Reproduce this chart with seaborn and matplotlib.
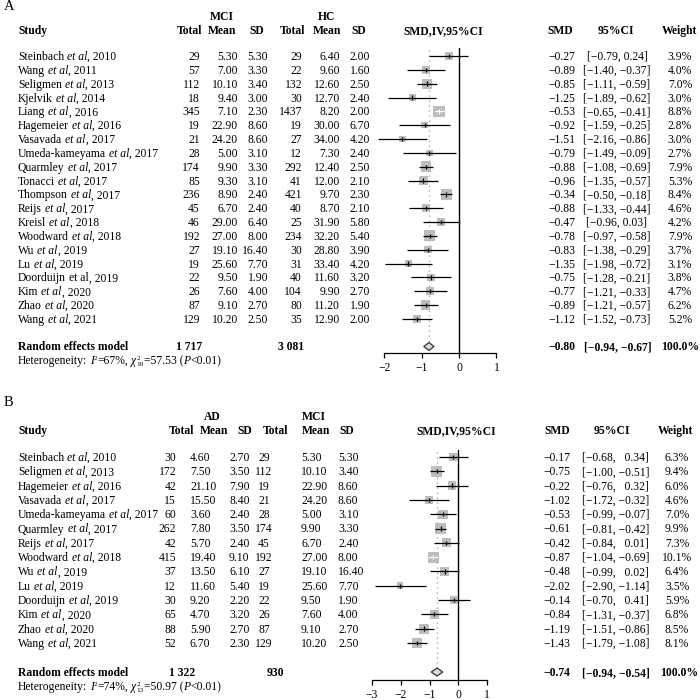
import numpy as np
import pandas as pd
import matplotlib
matplotlib.use("Agg")
import matplotlib.pyplot as plt
from matplotlib.patches import Polygon
import seaborn as sns

sns.set_theme(style="white")
plt.rcParams['font.family'] = ['Liberation Serif', 'DejaVu Serif']
plt.rcParams['axes.unicode_minus'] = True

# ---------------- data: panel A (MCI vs HC) ----------------
A_author = ["Steinbach", "Wang", "Seligmen", "Kjelvik", "Liang", "Hagemeier", "Vasavada",
            "Umeda-kameyama", "Quarmley", "Tonacci", "Thompson", "Reijs", "Kreisl", "Woodward",
            "Wu", "Lu", "Doorduijn", "Kim", "Zhao", "Wang"]
A_year = [2010, 2011, 2013, 2014, 2016, 2016, 2017, 2017, 2017, 2017, 2017, 2017, 2018, 2018,
          2019, 2019, 2019, 2020, 2020, 2021]
A_italic = [True] * 16 + [False] + [True] * 3
A_mci_total = [29, 57, 112, 18, 345, 19, 21, 28, 174, 85, 236, 45, 46, 192, 27, 19, 22, 26, 87, 129]
A_mci_mean = [5.30, 7.00, 10.10, 9.40, 7.10, 22.90, 24.20, 5.00, 9.90, 9.30, 8.90, 6.70, 29.00, 27.00,
              19.10, 25.60, 9.50, 7.60, 9.10, 10.20]
A_mci_sd = [5.30, 3.30, 3.40, 3.00, 2.30, 8.60, 8.60, 3.10, 3.30, 3.10, 2.40, 2.40, 6.40, 8.00,
            16.40, 7.70, 1.90, 4.00, 2.70, 2.50]
A_hc_total = [29, 22, 132, 30, 1437, 19, 27, 12, 292, 41, 421, 40, 25, 234, 30, 31, 40, 104, 80, 35]
A_hc_mean = [6.40, 9.60, 12.60, 12.70, 8.20, 30.00, 34.00, 7.30, 12.40, 12.00, 9.70, 8.70, 31.90, 32.20,
             28.80, 33.40, 11.60, 9.90, 11.20, 12.90]
A_hc_sd = [2.00, 1.60, 2.50, 2.40, 2.00, 6.70, 4.20, 2.40, 2.50, 2.10, 2.30, 2.10, 5.80, 5.40,
           3.90, 4.20, 3.20, 2.70, 1.90, 2.00]
A_smd = [-0.27, -0.89, -0.85, -1.25, -0.53, -0.92, -1.51, -0.79, -0.88, -0.96, -0.34, -0.88, -0.47,
         -0.78, -0.83, -1.35, -0.75, -0.77, -0.89, -1.12]
A_lo = [-0.79, -1.40, -1.11, -1.89, -0.65, -1.59, -2.16, -1.49, -1.08, -1.35, -0.50, -1.33, -0.96,
        -0.97, -1.38, -1.98, -1.28, -1.21, -1.21, -1.52]
A_hi = [0.24, -0.37, -0.59, -0.62, -0.41, -0.25, -0.86, -0.09, -0.69, -0.57, -0.18, -0.44, 0.03,
        -0.58, -0.29, -0.72, -0.21, -0.33, -0.57, -0.73]
A_weight = [3.9, 4.0, 7.0, 3.0, 8.8, 2.8, 3.0, 2.7, 7.9, 5.3, 8.4, 4.6, 4.2, 7.9, 3.7, 3.1, 3.8, 4.7, 6.2, 5.2]
A_sum = (-0.80, -0.94, -0.67)
A_totals = ("1 717", "3 081")
A_het = ("67%", "19", "57.53", "<0.01")
A_ticks = [-2, -1, 0, 1]

# ---------------- data: panel B (AD vs MCI) ----------------
B_author = ["Steinbach", "Seligmen", "Hagemeier", "Vasavada", "Umeda-kameyama", "Quarmley", "Reijs",
            "Woodward", "Wu", "Lu", "Doorduijn", "Kim", "Zhao", "Wang"]
B_year = [2010, 2013, 2016, 2017, 2017, 2017, 2017, 2018, 2019, 2019, 2019, 2020, 2020, 2021]
B_italic = [True] * 14
B_ad_total = [30, 172, 42, 15, 60, 262, 42, 415, 37, 12, 30, 65, 88, 52]
B_ad_mean = [4.60, 7.50, 21.10, 15.50, 3.60, 7.80, 5.70, 19.40, 13.50, 11.60, 9.20, 4.70, 5.90, 6.70]
B_ad_sd = [2.70, 3.50, 7.90, 8.40, 2.40, 3.50, 2.40, 9.10, 6.10, 5.40, 2.20, 3.20, 2.70, 2.30]
B_mci_total = [29, 112, 19, 21, 28, 174, 45, 192, 27, 19, 22, 26, 87, 129]
B_mci_mean = [5.30, 10.10, 22.90, 24.20, 5.00, 9.90, 6.70, 27.00, 19.10, 25.60, 9.50, 7.60, 9.10, 10.20]
B_mci_sd = [5.30, 3.40, 8.60, 8.60, 3.10, 3.30, 2.40, 8.00, 16.40, 7.70, 1.90, 4.00, 2.70, 2.50]
B_smd = [-0.17, -0.75, -0.22, -1.02, -0.53, -0.61, -0.42, -0.87, -0.48, -2.02, -0.14, -0.84, -1.19, -1.43]
B_lo = [-0.68, -1.00, -0.76, -1.72, -0.99, -0.81, -0.84, -1.04, -0.99, -2.90, -0.70, -1.31, -1.51, -1.79]
B_hi = [0.34, -0.51, 0.32, -0.32, -0.07, -0.42, 0.01, -0.69, 0.02, -1.14, 0.41, -0.37, -0.86, -1.08]
B_weight = [6.3, 9.4, 6.0, 4.6, 7.0, 9.9, 7.3, 10.1, 6.4, 3.5, 5.9, 6.8, 8.5, 8.1]
B_sum = (-0.74, -0.94, -0.54)
B_totals = ("1 322", "930")
B_het = ("74%", "13", "50.97", "<0.01")
B_ticks = [-3, -2, -1, 0, 1]

# ---------------- helpers ----------------
W = H = 700
FS = 8.4
fig = plt.figure(figsize=(7, 7), dpi=100)
fig.patch.set_facecolor("white")
renderer = fig.canvas.get_renderer()


def T(x, y, s, ha="left", bold=False, size=FS, style="normal"):
    return fig.text(x / W, 1 - (y + 4) / H, s, ha=ha, va="baseline", fontsize=size,
                    fontweight="bold" if bold else "normal", fontstyle=style, color="black")


def width(s, size=FS, style="normal"):
    t = fig.text(0, 0, s, fontsize=size, fontstyle=style)
    wpx = t.get_window_extent(renderer).width
    t.remove()
    return wpx


SPACE = width("x x") - width("xx")


def rich(x, y, parts):
    """parts: (text, style, size_scale, dy_px, advance, space_after)"""
    cur = x
    for s, style, sc, dy, adv, sp in parts:
        T(cur, y + dy, s, size=FS * sc, style=style)
        if adv:
            cur += width(s, FS * sc, style)
        if sp:
            cur += SPACE


def study(x, y, a, yr, it):
    rich(x, y, [(a, "normal", 1, 0, True, True),
                ("et al", "italic" if it else "normal", 1, 0, True, False),
                (f", {yr}", "normal", 1, 0, True, False)])


def het(x, y, h):
    rich(x, y, [("Heterogeneity:", "normal", 1, 0, True, True),
                ("I", "italic", 1, 0, True, False),
                ("2", "normal", 0.62, -3.5, True, False),
                (f"={h[0]},", "normal", 1, 0, True, True),
                ("\u03c7", "italic", 1, 0, True, False),
                ("2", "normal", 0.62, -3.5, False, False),
                (h[1], "normal", 0.62, 2.5, True, False),
                (f"={h[2]} (", "normal", 1, 0, True, False),
                ("P", "italic", 1, 0, True, False),
                (f"{h[3]})", "normal", 1, 0, True, False)])


def M(s):
    return s.replace("-", "\u2212")


def f2(v):
    return M(f"{v:.2f}")


def forest(x0, scale, xl, top_px, axis_px, row0, step, sum_px, smd, lo, hi, w, summ, ticks,
           box_max, zero_top_px, dot_top_px):
    left = x0 + xl[0] * scale
    right = x0 + xl[1] * scale
    ax = fig.add_axes([left / W, 1 - axis_px / H, (right - left) / W, (axis_px - top_px) / H])
    to_idx = lambda p: (p - row0) / step
    ax.set_xlim(*xl)
    ax.set_ylim(to_idx(axis_px), to_idx(top_px))
    ax.set_facecolor("none")
    n = len(smd)
    idx = np.arange(n)
    sidx = to_idx(sum_px)
    df = pd.DataFrame({"smd": smd, "row": idx, "w": w})
    wmax = max(w)
    k = (box_max * 0.72) ** 2 / wmax
    dh = 4.0 / step
    ax.plot([summ[0], summ[0]], [to_idx(dot_top_px), sidx - dh], color="#9a9a9a",
            lw=0.9, ls=(0, (1, 3)), zorder=1)
    ax.plot([0, 0], [to_idx(zero_top_px), to_idx(axis_px)], color="black", lw=1.0, zorder=1)
    sns.scatterplot(data=df, x="smd", y="row", size="w", sizes=(k * min(w), k * wmax),
                    size_norm=(min(w), wmax), marker="s", color="#bdbdbd", linewidth=0,
                    legend=False, ax=ax, zorder=2)
    cols = []
    for s_, l_, h_, w_ in zip(smd, lo, hi, w):
        box = box_max * np.sqrt(w_ / wmax)
        cols.append("white" if (h_ - l_) * scale < box else "black")
    ax.hlines(idx, lo, hi, colors=cols, lw=0.9, zorder=3)
    ax.scatter(smd, idx, marker="|", s=10, c=cols, linewidths=0.9, zorder=4)
    dia = Polygon([(summ[1], sidx), (summ[0], sidx - dh), (summ[2], sidx), (summ[0], sidx + dh)],
                  closed=True, facecolor="#d9d9d9", edgecolor="#333333", lw=0.9, zorder=3)
    ax.add_patch(dia)
    for sp in ["top", "left", "right"]:
        ax.spines[sp].set_visible(False)
    ax.spines["bottom"].set_bounds(ticks[0], ticks[-1])
    ax.spines["bottom"].set_color("black")
    ax.spines["bottom"].set_linewidth(0.9)
    ax.set_yticks([])
    ax.set_xticks(ticks)
    ax.tick_params(axis="x", direction="out", length=3.8, width=0.9, color="black",
                   labelsize=FS, pad=2.5, bottom=True, labelcolor="black")
    ax.set_xlabel("")
    ax.set_ylabel("")
    ax.grid(False)
    return ax


# ================= PANEL A =================
rowA0, stepA = 56.0, 13.84
sumA = 346.5
T(4, 6, "A", size=10.5)
T(222, 16, "MCI", ha="center", bold=True)
T(327, 16, "HC", ha="center", bold=True)
T(18, 30, "Study", bold=True)
for txt, cx in [("Total", 190), ("Mean", 222), ("SD", 257), ("Total", 293), ("Mean", 327), ("SD", 359)]:
    T(cx, 30, txt, ha="center", bold=True)
T(443, 30, "SMD,IV,95%CI", ha="center", bold=True)
T(560, 30, "SMD", ha="center", bold=True)
T(616, 30, "95%CI", ha="center", bold=True)
T(680, 30, "Weight", ha="center", bold=True)

for i in range(len(A_author)):
    y = rowA0 + i * stepA
    study(18, y, A_author[i], A_year[i], A_italic[i])
    T(200, y, str(A_mci_total[i]), ha="right")
    T(238, y, f2(A_mci_mean[i]), ha="right")
    T(268, y, f2(A_mci_sd[i]), ha="right")
    T(302, y, str(A_hc_total[i]), ha="right")
    T(340, y, f2(A_hc_mean[i]), ha="right")
    T(370, y, f2(A_hc_sd[i]), ha="right")
    T(575, y, f2(A_smd[i]), ha="right")
    T(617, y, f"[{f2(A_lo[i])}, {f2(A_hi[i])}]", ha="center")
    T(680, y, f"{A_weight[i]:.1f}%", ha="center")

T(18, sumA, "Random effects model", bold=True)
T(202, sumA, A_totals[0], ha="right", bold=True)
T(304, sumA, A_totals[1], ha="right", bold=True)
T(575, sumA, f2(A_sum[0]), ha="right", bold=True)
T(618, sumA, f"[{f2(A_sum[1])}, {f2(A_sum[2])}]", ha="center", bold=True)
T(680, sumA, "100.0%", ha="center", bold=True)
het(18, 360, A_het)

forest(459.0, 37.45, (-2.6, 1.6), 45, 353, rowA0, stepA, sumA, A_smd, A_lo, A_hi, A_weight,
       A_sum, A_ticks, 11.5, 48, 50)

# ================= PANEL B =================
rowB0, stepB = 457.0, 14.3
sumB = 672.0
T(4, 402, "B", size=10.5)
T(212, 416, "AD", ha="center", bold=True)
T(314, 416, "MCI", ha="center", bold=True)
T(18, 430, "Study", bold=True)
for txt, cx in [("Total", 182), ("Mean", 214), ("SD", 245), ("Total", 276), ("Mean", 316), ("SD", 347)]:
    T(cx, 430, txt, ha="center", bold=True)
T(456, 430, "SMD,IV,95%CI", ha="center", bold=True)
T(557, 430, "SMD", ha="center", bold=True)
T(612, 430, "95%CI", ha="center", bold=True)
T(676, 430, "Weight", ha="center", bold=True)


def ci_pad(v):
    s = f2(v)
    return s if v < 0 else "\u2007" + s


for i in range(len(B_author)):
    y = rowB0 + i * stepB
    study(18, y, B_author[i], B_year[i], B_italic[i])
    T(176, y, str(B_ad_total[i]), ha="right")
    T(190, y, f2(B_ad_mean[i]))
    T(229, y, f2(B_ad_sd[i]))
    T(264, y, str(B_mci_total[i]), ha="center")
    T(301, y, f2(B_mci_mean[i]))
    T(338, y, f2(B_mci_sd[i]))
    T(570, y, f2(B_smd[i]), ha="right")
    T(582, y, f"[{f2(B_lo[i])}, {ci_pad(B_hi[i])}]")
    T(677, y, f"{B_weight[i]:.1f}%", ha="center")

T(18, sumB, "Random effects model", bold=True)
T(182, sumB, B_totals[0], ha="center", bold=True)
T(275, sumB, B_totals[1], ha="center", bold=True)
T(570, sumB, f2(B_sum[0]), ha="right", bold=True)
T(582, sumB, f"[{f2(B_sum[1])}, {f2(B_sum[2])}]", bold=True)
T(679, sumB, "100.0%", ha="center", bold=True)
het(18, 686, B_het)

forest(458.3, 28.75, (-3.4, 1.6), 448, 680, rowB0, stepB, sumB, B_smd, B_lo, B_hi, B_weight,
       B_sum, B_ticks, 11.0, 450, 452)

fig.savefig("out.png", dpi=100, facecolor="white")
